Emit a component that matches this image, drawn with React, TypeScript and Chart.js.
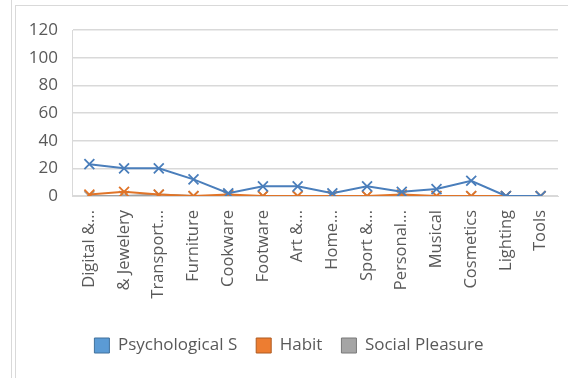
import React, { useEffect, useRef } from "react";
import { Chart, registerables } from "chart.js";

Chart.register(...registerables);

// Product categories (already shortened the way the axis shows them)
const categories = [
  "Digital &...",
  "& Jewelery",
  "Transport...",
  "Furniture",
  "Cookware",
  "Footware",
  "Art &...",
  "Home...",
  "Sport &...",
  "Personal...",
  "Musical",
  "Cosmetics",
  "Lighting",
  "Tools",
];

const seriesNames = ["Psychological S", "Habit", "Social Pleasure"];
const psychological = [23, 20, 20, 12, 2, 7, 7, 2, 7, 3, 5, 11, 0, 0];
const habit = [1, 3, 1, 0, 1, 0, 0, 0, 0, 1, 0, 0, 0, 0];
const socialPleasure = [0, 0, 1, 0, 0, 0, 0, 0, 0, 0, 0, 0, 0, 0];

const yMin = 0;
const yMax = 120;
const yStep = 20;

const lineColors = ["#4a7ebb", "#e07428", "#a0a0a0"];
const legendFills = ["#5b9bd5", "#ed7d31", "#a5a5a5"];
const legendStrokes = ["#41719c", "#ae5a21", "#787878"];

const FONT = "'Open Sans', 'DejaVu Sans', sans-serif";
const TEXT = "#595959";
const GRID = "#d9d9d9";

export default function App() {
  const canvasRef = useRef<HTMLCanvasElement | null>(null);

  useEffect(() => {
    const canvas = canvasRef.current;
    if (!canvas) return;
    const values = [psychological, habit, socialPleasure];
    const chart = new Chart(canvas, {
      type: "line",
      data: {
        labels: categories,
        datasets: seriesNames.map((name, i) => ({
          label: name,
          data: values[i],
          borderColor: lineColors[i],
          backgroundColor: lineColors[i],
          borderWidth: 2,
          tension: 0,
          pointStyle: "crossRot",
          pointRadius: 7,
          pointBorderWidth: 1.8,
          pointBorderColor: lineColors[i],
          fill: false,
        })),
      },
      options: {
        responsive: false,
        animation: false,
        layout: { padding: { left: 20, right: 10, top: 30, bottom: 14 } },
        plugins: {
          tooltip: { enabled: false },
          legend: {
            position: "bottom",
            labels: {
              boxWidth: 15,
              boxHeight: 15,
              padding: 19,
              color: TEXT,
              font: { family: FONT, size: 17 },
              generateLabels: (c: any) =>
                c.data.datasets.map((d: any, i: number) => ({
                  text: d.label,
                  fillStyle: legendFills[i],
                  strokeStyle: legendStrokes[i],
                  lineWidth: 1,
                  hidden: false,
                  datasetIndex: i,
                  fontColor: TEXT,
                })),
            },
          },
        },
        scales: {
          x: {
            offset: true,
            grid: { display: false, drawTicks: false, offset: true },
            border: { display: true, color: GRID, width: 1 },
            ticks: {
              minRotation: 90,
              maxRotation: 90,
              autoSkip: false,
              padding: 14,
              color: TEXT,
              font: { family: FONT, size: 16.5 },
            },
            afterFit: (scale: any) => {
              scale.height = 122;
              scale.paddingLeft = 0;
              scale.paddingRight = 0;
            },
          },
          y: {
            min: yMin,
            max: yMax,
            ticks: {
              stepSize: yStep,
              padding: 14,
              color: TEXT,
              font: { family: FONT, size: 17 },
            },
            grid: { color: GRID, lineWidth: 1.5, drawTicks: false },
            border: { display: true, color: GRID, width: 1 },
            afterFit: (scale: any) => {
              scale.width = 52;
            },
          },
        },
      },
    });
    return () => chart.destroy();
  }, []);

  return (
    <div style={{ position: "fixed", left: 0, top: 0, width: 568, height: 378, background: "#fff" }}>
      <div style={{ position: "absolute", left: 11, top: 0, width: 1, height: 378, background: GRID }} />
      <div style={{ position: "absolute", left: 15, top: 5, width: 1, height: 373, background: GRID }} />
      <div style={{ position: "absolute", left: 15, top: 5, width: 553, height: 1, background: GRID }} />
      <canvas
        ref={canvasRef}
        width={568}
        height={378}
        style={{ position: "absolute", left: 0, top: 0, width: 568, height: 378 }}
      />
    </div>
  );
}
